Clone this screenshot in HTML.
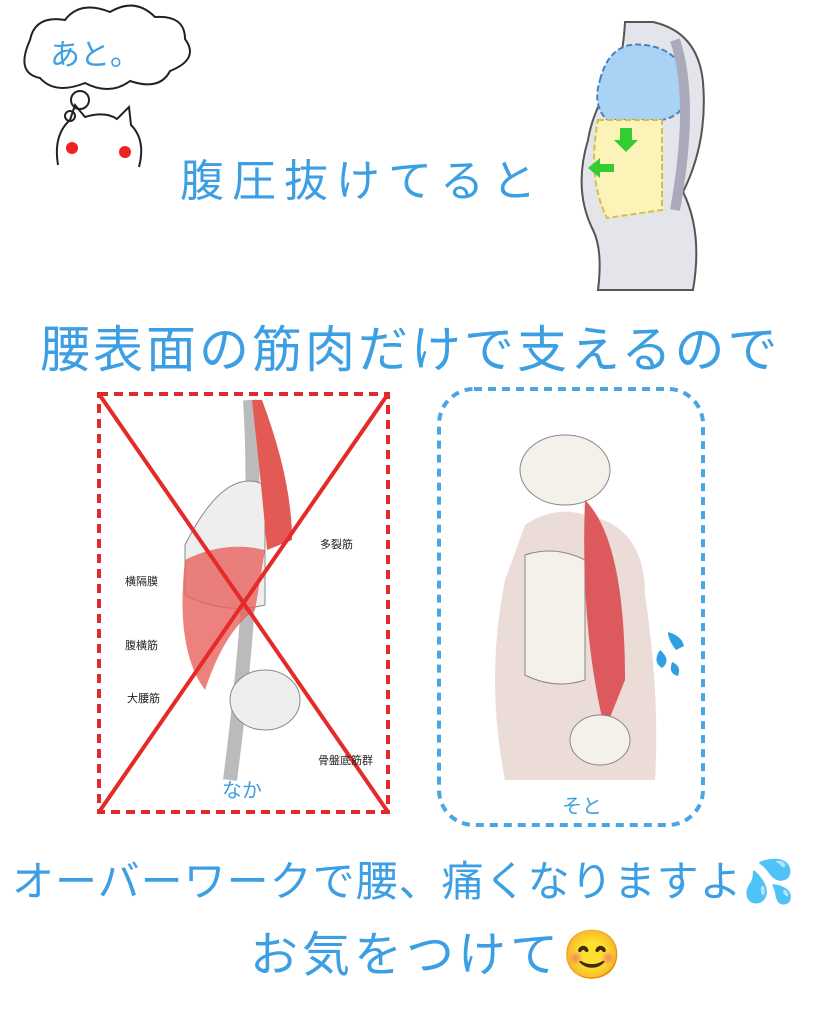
<!DOCTYPE html>
<html><head><meta charset="utf-8"><style>
body{margin:0;width:819px;height:1024px;background:#fff;position:relative;overflow:hidden;font-family:"Liberation Sans","Noto Sans CJK JP",sans-serif}
.t{position:absolute;color:#3d9fe3;white-space:nowrap;font-weight:400}
</style></head><body>
<svg width="819" height="1024" style="position:absolute;left:0;top:0">
<path d="M30,40 q5,-25 35,-20 q15,-20 45,-8 q25,-15 45,5 q30,-2 30,22 q15,20 -15,32 q-10,20 -40,10 q-20,15 -45,2 q-30,12 -45,-5 q-25,-5 -10,-38z" fill="none" stroke="#222" stroke-width="2"/>
<circle cx="80" cy="100" r="9" fill="none" stroke="#222" stroke-width="2"/>
<circle cx="70" cy="116" r="5" fill="none" stroke="#222" stroke-width="2"/>
<path d="M58,165 q-5,-30 12,-45 l5,-15 l10,12 q20,-6 32,2 l12,-12 l2,18 q15,15 8,42" fill="none" stroke="#222" stroke-width="2"/>
<circle cx="72" cy="148" r="6" fill="#e22"/><circle cx="125" cy="152" r="6" fill="#e22"/>
<path d="M625,22 l28,0 q45,10 50,60 q5,60 -20,110 q20,40 10,98 l-95,0 q5,-40 -5,-60 q-20,-40 -5,-90 q5,-30 25,-60 q10,-20 12,-58z" fill="#e3e5ea" stroke="#555" stroke-width="2"/>
<path d="M600,80 q10,-40 45,-35 q40,5 42,45 q0,25 -25,30 l-55,0 q-15,-15 -7,-40z" fill="#a9d3f5" stroke="#4a7fc0" stroke-width="2" stroke-dasharray="6,3"/>
<path d="M598,120 l64,0 l0,90 l-55,8 q-20,-40 -9,-98z" fill="#fbf3b8" stroke="#d8c040" stroke-width="2" stroke-dasharray="6,3"/>
<path d="M675,40 q20,60 0,170" fill="none" stroke="#aab" stroke-width="10"/>
<polygon points="620,128 632,128 632,140 638,140 626,152 614,140 620,140" fill="#3c3"/>
<polygon points="588,168 600,158 600,164 614,164 614,172 600,172 600,178" fill="#3c3"/>
<rect x="99" y="394" width="289" height="418" fill="none" stroke="#e02a2a" stroke-width="4" stroke-dasharray="9,6"/>
<path d="M250,400 q10,150 -20,380" fill="none" stroke="#bbb" stroke-width="14"/>
<path d="M185,545 q40,-80 80,-60 l0,120 q-40,10 -80,-10z" fill="#eee" stroke="#888"/>
<path d="M185,560 q40,-20 80,-10 l-10,60 q-30,20 -50,80 q-30,-40 -20,-130z" fill="#e9625c" opacity="0.8"/>
<path d="M262,400 q30,80 30,140 l-25,10 q-5,-60 -15,-150z" fill="#e35a55"/>
<ellipse cx="265" cy="700" rx="35" ry="30" fill="#eee" stroke="#888"/>
<line x1="99" y1="394" x2="388" y2="812" stroke="#e52a2a" stroke-width="4"/>
<line x1="388" y1="394" x2="99" y2="812" stroke="#e52a2a" stroke-width="4"/>
<rect x="439" y="389" width="264" height="436" rx="35" fill="none" stroke="#4aa6e2" stroke-width="4" stroke-dasharray="8,6"/>
<path d="M525,525 q30,-20 60,-10 q60,10 60,80 q15,100 10,185 l-150,0 q-20,-100 0,-200 z" fill="#ecdcd8"/>
<ellipse cx="565" cy="470" rx="45" ry="35" fill="#f4f0ea" stroke="#888"/>
<path d="M525,555 q30,-10 60,5 l0,120 q-30,10 -60,-5z" fill="#f4f0ea" stroke="#888"/>
<path d="M585,500 q40,40 40,180 l-20,50 q-25,-100 -20,-230z" fill="#dc5a5e"/>
<ellipse cx="600" cy="740" rx="30" ry="25" fill="#f4f0ea" stroke="#888"/>
<path d="M668,632 q14,4 16,14 l-8,4 q-8,-10 -8,-18z M660,650 q12,10 2,18 q-10,-6 -2,-18z M672,662 q10,4 6,14 q-10,-2 -6,-14z" fill="#2f9ee3"/>
</svg>
<div class="t" style="left:50px;top:30px;font-size:30px">あと。</div>
<div class="t" style="left:180px;top:145px;font-size:44px;letter-spacing:8px">腹圧抜けてると</div>
<div class="t" style="left:40px;top:310px;font-size:50px;letter-spacing:3px">腰表面の筋肉だけで支えるので</div>
<div style="position:absolute;left:125px;top:573px;font-size:11px;color:#222">横隔膜</div>
<div style="position:absolute;left:125px;top:637px;font-size:11px;color:#222">腹横筋</div>
<div style="position:absolute;left:127px;top:690px;font-size:11px;color:#222">大腰筋</div>
<div style="position:absolute;left:320px;top:536px;font-size:11px;color:#222">多裂筋</div>
<div style="position:absolute;left:318px;top:752px;font-size:11px;color:#222">骨盤底筋群</div>
<div class="t" style="left:222px;top:774px;font-size:20px">なか</div>
<div class="t" style="left:562px;top:790px;font-size:20px">そと</div>
<div class="t" style="left:12px;top:848px;font-size:42px;letter-spacing:1px">オーバーワークで腰、痛くなりますよ💦</div>
<div class="t" style="left:250px;top:915px;font-size:48px;letter-spacing:4px">お気をつけて😊</div>
</body></html>
